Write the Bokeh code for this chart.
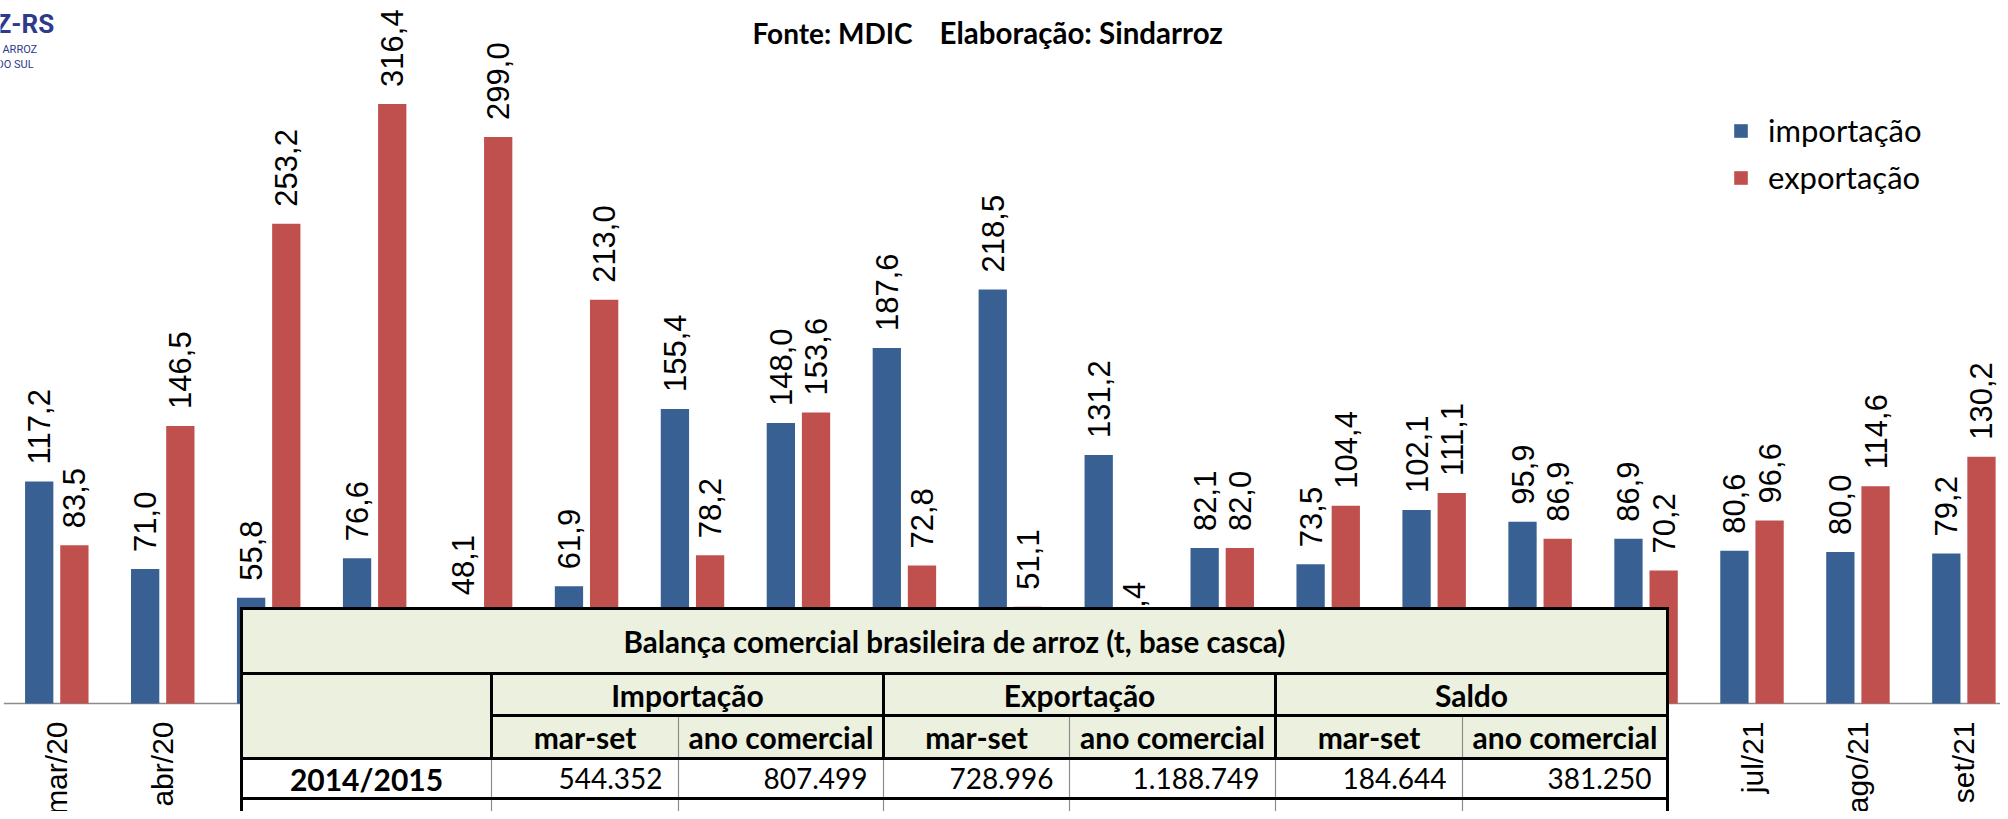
import math
from bokeh.plotting import figure
from bokeh.models import Range1d, ColumnDataSource, Legend, LegendItem
from bokeh.core.properties import value
from bokeh.embed import file_html
from bokeh.resources import INLINE

# ---------------- data ----------------
months = ["mar/20", "abr/20", "mai/20", "jun/20", "jul/20", "ago/20", "set/20",
          "out/20", "nov/20", "dez/20", "jan/21", "fev/21", "mar/21", "abr/21",
          "mai/21", "jun/21", "jul/21", "ago/21", "set/21"]
importacao = [117.2, 71.0, 55.8, 76.6, 48.1, 61.9, 155.4, 148.0, 187.6, 218.5,
              131.2, 82.1, 73.5, 102.1, 95.9, 86.9, 80.6, 80.0, 79.2]
exportacao = [83.5, 146.5, 253.2, 316.4, 299.0, 213.0, 78.2, 153.6, 72.8, 51.1,
              23.4, 82.0, 104.4, 111.1, 86.9, 70.2, 96.6, 114.6, 130.2]
series_names = ["importação", "exportação"]

subtitle_parts = ["Fonte: MDIC", "Elaboração: Sindarroz"]
logo_texts = ["Z-RS", "D ARROZ", "DO SUL"]

table_title = "Balança comercial brasileira de arroz (t, base casca)"
table_groups = ["Importação", "Exportação", "Saldo"]
table_subcols = ["mar-set", "ano comercial"]
table_rows = ["2014/2015"]
table_values = [["544.352", "807.499", "728.996", "1.188.749", "184.644", "381.250"]]

# ---------------- layout ----------------
W, H = 2000, 811
OFF = 8                      # page margin
PITCH = 105.95               # px per category
X0 = 64.3 - OFF              # px of first category centre
BASE = 711 - OFF             # px of zero line
PPU = 1.895                  # px per unit (mil t)
BAR_W = 0.267
DODGE = 0.166
BLUE = "#386092"
RED = "#C0504D"
GREEN = "#EBF1DE"

p = figure(width=W, height=H,
           x_range=Range1d(-X0 / PITCH, (W - X0) / PITCH),
           y_range=Range1d(-(H - BASE) / PPU, BASE / PPU),
           x_axis_type=None, y_axis_type=None,
           toolbar_location=None, output_backend="svg",
           min_border=0, outline_line_color=None,
           background_fill_color="white", border_fill_color="white")
p.extra_x_ranges = {"px": Range1d(0, W)}
p.extra_y_ranges = {"px": Range1d(H, 0)}

n = len(months)
idx = list(range(n))
src = ColumnDataSource(dict(
    xi=[i - DODGE for i in idx], xe=[i + DODGE for i in idx],
    imp=importacao, exp=exportacao,
    limp=[f"{v:.1f}".replace(".", ",") for v in importacao],
    lexp=[f"{v:.1f}".replace(".", ",") for v in exportacao],
    xm=idx, month=months, zero=[0] * n,
))

# axis line
p.segment(x0=[-0.5], x1=[n - 0.5], y0=[0], y1=[0], line_color="#8C8C8C", line_width=1.5)

r_imp = p.vbar(x="xi", top="imp", width=BAR_W, source=src, fill_color=BLUE, line_color=None)
r_exp = p.vbar(x="xe", top="exp", width=BAR_W, source=src, fill_color=RED, line_color=None)

lab_font = value("Liberation Sans")
p.text(x="xi", y="imp", text="limp", source=src, angle=math.pi / 2,
       text_align="left", text_baseline="middle", y_offset=-17,
       text_font=lab_font, text_font_size="31px", text_color="#000000")
p.text(x="xe", y="exp", text="lexp", source=src, angle=math.pi / 2,
       text_align="left", text_baseline="middle", y_offset=-17,
       text_font=lab_font, text_font_size="31px", text_color="#000000")

# category labels
p.text(x="xm", y="zero", text="month", source=src, angle=math.pi / 2,
       text_align="right", text_baseline="middle", y_offset=18,
       text_font=lab_font, text_font_size="30px", text_color="#000000")

# legend
legend = Legend(items=[LegendItem(label=series_names[0], renderers=[r_imp]),
                       LegendItem(label=series_names[1], renderers=[r_exp])],
                location=(1740 - OFF, 615),
                glyph_width=17, glyph_height=17, label_standoff=19, spacing=9,
                padding=0, margin=0, border_line_color=None, background_fill_alpha=0,
                label_text_font="Lato", label_text_font_size="31px",
                label_text_color="#000000")
p.add_layout(legend)

tf = value("Lato")
# subtitle
p.text(x=[760 - OFF], y=[40 - OFF], text=[subtitle_parts[0]], x_range_name="px", y_range_name="px",
       text_align="left", text_baseline="alphabetic", text_font=tf, text_font_style="bold",
       text_font_size="28px", text_color="#000000")
p.text(x=[947 - OFF], y=[40 - OFF], text=[subtitle_parts[1]], x_range_name="px", y_range_name="px",
       text_align="left", text_baseline="alphabetic", text_font=tf, text_font_style="bold",
       text_font_size="29.5px", text_color="#000000")

# logo fragment
LOGO = "#2E3A8C"
p.text(x=[-5], y=[31 - OFF], text=[logo_texts[0]], x_range_name="px", y_range_name="px",
       text_align="left", text_baseline="alphabetic", text_font=value("Roboto"),
       text_font_style="bold", text_font_size="26px", text_color=LOGO)
p.text(x=[-8], y=[57 - OFF], text=[logo_texts[1]], x_range_name="px", y_range_name="px",
       text_align="left", text_baseline="alphabetic", text_font=value("Roboto"),
       text_font_size="11px", text_color=LOGO)
p.text(x=[-4], y=[72 - OFF], text=[logo_texts[2]], x_range_name="px", y_range_name="px",
       text_align="left", text_baseline="alphabetic", text_font=value("Roboto"),
       text_font_size="11px", text_color=LOGO)

# ---------------- table ----------------
TX = [v - OFF for v in [249, 499, 686, 891, 1077, 1283, 1470, 1675]]
TY = [v - OFF for v in [616, 681, 723, 766, 806, 848]]
kw = dict(x_range_name="px", y_range_name="px")

p.quad(left=[TX[0]], right=[TX[-1]], top=[TY[0]], bottom=[TY[3]], fill_color=GREEN, line_color=None, **kw)
p.quad(left=[TX[0]], right=[TX[-1]], top=[TY[3]], bottom=[TY[5] + 20], fill_color="white", line_color=None, **kw)

thin = dict(line_color="#8C8C8C", line_width=1.2, **kw)
thick = dict(line_color="#000000", line_width=3, **kw)
# thin separators
p.segment(x0=[TX[2], TX[4], TX[6]], x1=[TX[2], TX[4], TX[6]], y0=[TY[2]] * 3, y1=[H + 5] * 3, **thin)
p.segment(x0=[TX[1], TX[3], TX[5]], x1=[TX[1], TX[3], TX[5]], y0=[TY[3]] * 3, y1=[H + 5] * 3, **thin)
# thick separators
p.segment(x0=[TX[1], TX[3], TX[5]], x1=[TX[1], TX[3], TX[5]], y0=[TY[1]] * 3, y1=[TY[3]] * 3, **thick)
p.segment(x0=[TX[0], TX[0], TX[1], TX[0], TX[0], TX[0]],
          x1=[TX[-1], TX[-1], TX[-1], TX[-1], TX[-1], TX[-1]],
          y0=[TY[0], TY[1], TY[2], TY[3], TY[4], TY[5]],
          y1=[TY[0], TY[1], TY[2], TY[3], TY[4], TY[5]], **thick)
p.segment(x0=[TX[0], TX[-1]], x1=[TX[0], TX[-1]], y0=[TY[0] - 1.5] * 2, y1=[H + 5] * 2, **thick)

bsize = "30px"
p.text(x=[(TX[0] + TX[-1]) / 2], y=[(TY[0] + TY[1]) / 2], text=[table_title],
       text_align="center", text_baseline="middle", text_font=tf, text_font_style="bold",
       text_font_size="29.5px", text_color="#000000", **kw)
gx = [(TX[1 + 2 * k] + TX[3 + 2 * k]) / 2 for k in range(3)]
p.text(x=gx, y=[(TY[1] + TY[2]) / 2] * 3, text=table_groups,
       text_align="center", text_baseline="middle", text_font=tf, text_font_style="bold",
       text_font_size=bsize, text_color="#000000", **kw)
sx = [(TX[k] + TX[k + 1]) / 2 for k in range(1, 7)]
p.text(x=sx, y=[(TY[2] + TY[3]) / 2] * 6, text=table_subcols * 3,
       text_align="center", text_baseline="middle", text_font=tf, text_font_style="bold",
       text_font_size=bsize, text_color="#000000", **kw)
for r, (lab, vals) in enumerate(zip(table_rows, table_values)):
    yc = (TY[3 + r] + TY[4 + r]) / 2
    p.text(x=[(TX[0] + TX[1]) / 2], y=[yc], text=[lab],
           text_align="center", text_baseline="middle", text_font=tf, text_font_style="bold",
           text_font_size=bsize, text_color="#000000", **kw)
    p.text(x=[TX[k + 1] - 16 for k in range(1, 7)], y=[yc] * 6, text=vals,
           text_align="right", text_baseline="middle", text_font=tf,
           text_font_size="28px", text_color="#000000", **kw)

open("out.html", "w").write(file_html(p, INLINE))
